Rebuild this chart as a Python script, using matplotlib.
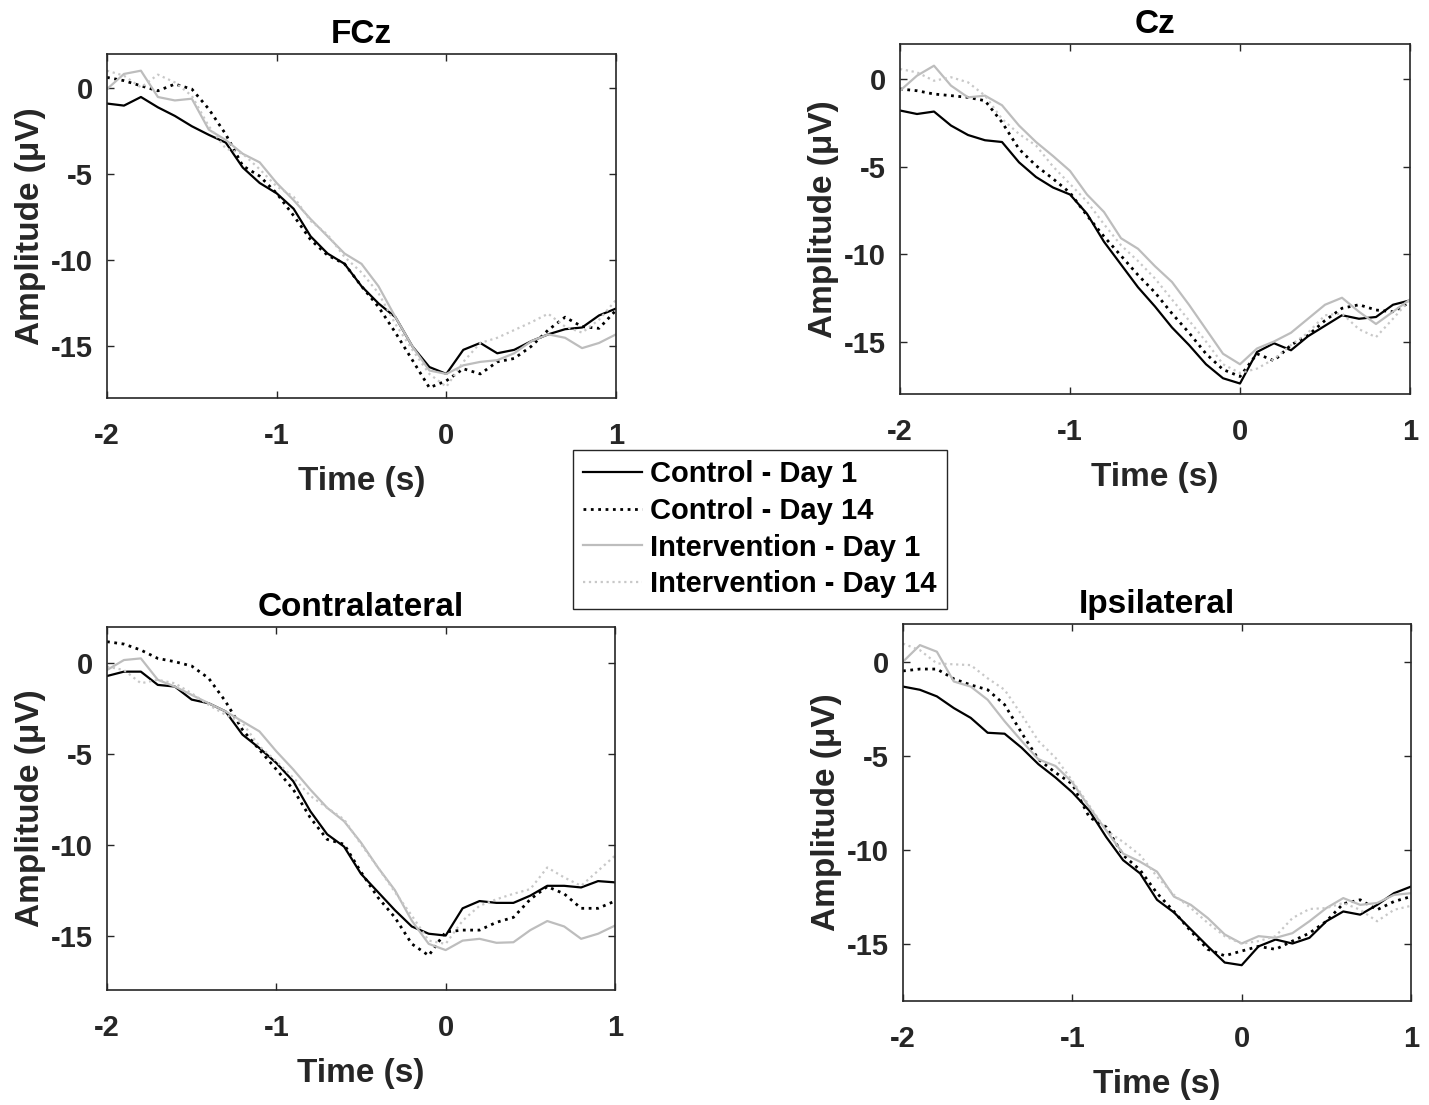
import numpy as np
import matplotlib
matplotlib.use("Agg")
import matplotlib.pyplot as plt

plt.rcParams['font.family'] = ['Liberation Sans', 'DejaVu Sans']
plt.rcParams['font.weight'] = 'bold'
plt.rcParams['axes.unicode_minus'] = False

# time grid (s), one reading every 0.1 s
time = np.round(np.linspace(-2.0, 1.0, 31), 1)

series_names = ['Control - Day 1', 'Control - Day 14',
                'Intervention - Day 1', 'Intervention - Day 14']
panel_titles = ['FCz', 'Cz', 'Contralateral', 'Ipsilateral']

# FCz
fcz_ctrl_d1 = [-0.88, -1.0, -0.5, -1.1, -1.6, -2.2, -2.7, -3.15, -4.6, -5.5, -6.1,
               -7.0, -8.6, -9.6, -10.2, -11.5, -12.5, -13.3, -15.0, -16.2, -16.6,
               -15.2, -14.8, -15.4, -15.2, -14.7, -14.3, -14.0, -13.9, -13.2, -12.8]
fcz_ctrl_d14 = [0.64, 0.45, 0.15, -0.14, 0.25, -0.04, -1.2, -2.67, -4.5, -5.1, -6.1,
                -7.4, -8.8, -9.7, -10.2, -11.5, -12.7, -14.2, -15.8, -17.4, -17.0,
                -16.3, -16.6, -15.9, -15.7, -15.0, -14.05, -13.3, -13.85, -13.95, -12.9]
fcz_int_d1 = [-0.04, 0.84, 1.03, -0.5, -0.7, -0.6, -2.4, -3.0, -3.8, -4.3, -5.5,
              -6.5, -7.6, -8.6, -9.6, -10.2, -11.5, -13.3, -15.0, -16.4, -16.6,
              -16.1, -15.9, -15.8, -15.4, -14.7, -14.3, -14.5, -15.1, -14.8, -14.3]
fcz_int_d14 = [1.03, 0.74, 0.06, 0.8, 0.35, -0.43, -2.2, -3.5, -3.8, -4.7, -5.7,
               -6.3, -7.7, -8.5, -9.8, -10.7, -11.9, -13.7, -15.2, -16.6, -17.35,
               -15.9, -14.8, -14.5, -14.05, -13.6, -13.1, -13.85, -14.2, -13.45, -12.3]

# Cz
cz_ctrl_d1 = [-1.8, -2.0, -1.86, -2.66, -3.2, -3.5, -3.6, -4.76, -5.6, -6.2, -6.6,
              -7.7, -9.3, -10.6, -11.9, -13.0, -14.2, -15.2, -16.3, -17.1, -17.4,
              -15.6, -15.1, -15.5, -14.7, -14.1, -13.5, -13.7, -13.6, -12.9, -12.65]
cz_ctrl_d14 = [-0.57, -0.67, -0.86, -0.95, -1.05, -1.24, -2.47, -4.0, -4.95, -5.7, -6.5,
               -7.8, -9.0, -10.1, -11.2, -12.2, -13.4, -14.5, -15.7, -16.6, -17.0,
               -15.7, -16.1, -15.2, -14.65, -13.8, -13.1, -12.9, -13.2, -13.3, -12.75]
cz_int_d1 = [-0.67, 0.19, 0.76, -0.38, -1.05, -0.95, -1.5, -2.66, -3.6, -4.4, -5.25,
             -6.6, -7.6, -9.1, -9.7, -10.7, -11.6, -12.9, -14.3, -15.7, -16.3,
             -15.4, -15.0, -14.5, -13.7, -12.9, -12.5, -13.3, -14.0, -13.3, -12.6]
cz_int_d14 = [0.57, 0.38, -0.1, 0.1, -0.19, -0.95, -2.28, -3.14, -3.8, -5.0, -6.0,
              -7.0, -8.3, -9.5, -10.4, -11.4, -12.6, -13.8, -15.0, -16.3, -16.8,
              -16.55, -16.0, -15.2, -14.5, -13.5, -13.4, -14.3, -14.75, -13.7, -12.6]

# Contralateral
con_ctrl_d1 = [-0.7, -0.46, -0.46, -1.19, -1.28, -2.0, -2.2, -2.65, -3.93, -4.67, -5.49,
               -6.5, -8.14, -9.42, -10.1, -11.6, -12.6, -13.6, -14.5, -14.9, -15.0,
               -13.5, -13.1, -13.2, -13.2, -12.8, -12.26, -12.26, -12.35, -12.0, -12.07]
con_ctrl_d14 = [1.19, 1.06, 0.73, 0.27, 0.09, -0.15, -0.82, -2.1, -3.66, -4.76, -5.85,
                -6.95, -8.5, -9.7, -9.97, -11.5, -12.9, -14.0, -15.46, -16.1, -14.8,
                -14.7, -14.7, -14.27, -14.0, -13.0, -12.3, -12.7, -13.5, -13.5, -13.1]
con_int_d1 = [-0.37, 0.18, 0.27, -0.91, -1.28, -1.74, -2.2, -2.65, -3.2, -3.75, -4.85,
              -5.85, -6.95, -7.96, -8.7, -9.88, -11.25, -12.5, -14.18, -15.46, -15.8,
              -15.28, -15.18, -15.4, -15.37, -14.7, -14.2, -14.5, -15.18, -14.9, -14.45]
con_int_d14 = [-0.18, -0.37, -1.1, -0.91, -1.1, -1.65, -2.29, -2.84, -3.29, -4.57, -5.4,
               -6.3, -7.3, -7.96, -8.6, -9.97, -11.25, -12.6, -13.9, -15.28, -15.46,
               -14.18, -13.36, -13.0, -12.7, -12.44, -11.25, -11.8, -12.26, -11.43, -10.6]

# Ipsilateral
ips_ctrl_d1 = [-1.32, -1.49, -1.84, -2.46, -2.98, -3.77, -3.82, -4.56, -5.44, -6.14, -6.93,
               -7.9, -9.3, -10.53, -11.23, -12.63, -13.3, -14.2, -15.1, -15.96, -16.1,
               -15.1, -14.74, -14.95, -14.65, -13.77, -13.25, -13.42, -12.9, -12.28, -11.93]
ips_ctrl_d14 = [-0.49, -0.39, -0.39, -0.91, -1.23, -1.49, -2.28, -3.77, -5.18, -5.88, -6.49,
                -8.25, -8.77, -10.26, -11.05, -12.28, -13.25, -14.3, -15.26, -15.6, -15.35,
                -15.1, -15.26, -14.82, -14.4, -13.77, -12.84, -12.63, -13.16, -12.72, -12.46]
ips_int_d1 = [0.0, 0.88, 0.53, -1.05, -1.32, -2.02, -3.16, -4.2, -5.18, -5.53, -6.4,
              -7.72, -8.95, -10.18, -10.61, -11.14, -12.46, -12.9, -13.6, -14.47, -14.95,
              -14.56, -14.65, -14.4, -13.77, -13.07, -12.54, -12.9, -12.8, -12.37, -12.28]
ips_int_d14 = [0.96, 0.61, -0.09, -0.14, -0.18, -0.88, -1.49, -2.81, -4.21, -5.09, -6.32,
               -7.63, -8.95, -9.56, -10.26, -11.4, -12.37, -13.07, -13.86, -14.56, -14.96,
               -14.82, -14.56, -13.6, -13.12, -13.07, -12.8, -13.16, -13.77, -13.16, -12.95]

panel_data = [
    [fcz_ctrl_d1, fcz_ctrl_d14, fcz_int_d1, fcz_int_d14],
    [cz_ctrl_d1, cz_ctrl_d14, cz_int_d1, cz_int_d14],
    [con_ctrl_d1, con_ctrl_d14, con_int_d1, con_int_d14],
    [ips_ctrl_d1, ips_ctrl_d14, ips_int_d1, ips_int_d14],
]

line_styles = [
    dict(color='black', linestyle='-', linewidth=1.6),
    dict(color='black', linestyle=':', linewidth=2.0),
    dict(color='#bdbdbd', linestyle='-', linewidth=1.6),
    dict(color='#c8c8c8', linestyle=':', linewidth=1.6),
]

# axes rectangles in pixels (left, top, right, bottom)
W, H = 1429, 1105
boxes_px = [(107, 54, 616, 398), (900, 44, 1410, 394),
            (107, 627, 615, 990), (903, 624, 1411, 1001)]

fig = plt.figure(figsize=(W / 100, H / 100), dpi=100)
frame_col = '#262626'

handles = []
for i, (x0, y0, x1, y1) in enumerate(boxes_px):
    ax = fig.add_axes([x0 / W, 1 - y1 / H, (x1 - x0) / W, (y1 - y0) / H])
    lines = []
    for vals, st in zip(panel_data[i], line_styles):
        ln, = ax.plot(time, vals, **st)
        lines.append(ln)
    if i == 0:
        handles = lines
    ax.set_xlim(-2, 1)
    ax.set_ylim(-18, 2)
    ax.set_xticks([-2, -1, 0, 1])
    ax.set_yticks([-15, -10, -5, 0])
    ax.tick_params(direction='in', top=True, right=True, length=5, width=1,
                   color=frame_col, labelsize=21, labelcolor=frame_col)
    ax.tick_params(axis='x', pad=17)
    ax.tick_params(axis='y', pad=10)
    for sp in ax.spines.values():
        sp.set_color(frame_col)
        sp.set_linewidth(1.2)
    ax.set_xlabel('Time (s)', fontsize=24, fontweight='bold', color=frame_col, labelpad=12)
    ax.set_ylabel('Amplitude (\u03bcV)', fontsize=24, fontweight='bold', color=frame_col, labelpad=4)
    ax.set_title(panel_titles[i], fontsize=24, fontweight='bold', pad=8)

leg = fig.legend(handles, series_names, loc='upper left',
                 bbox_to_anchor=(573 / W, 1 - 450 / H), borderaxespad=0,
                 fancybox=False, edgecolor=frame_col, framealpha=1,
                 prop=dict(size=21, weight='bold'), handlelength=2.0,
                 handletextpad=0.3, labelspacing=0.3, borderpad=0.35)
leg.get_frame().set_linewidth(1.0)

fig.savefig('out.png', dpi=100)
